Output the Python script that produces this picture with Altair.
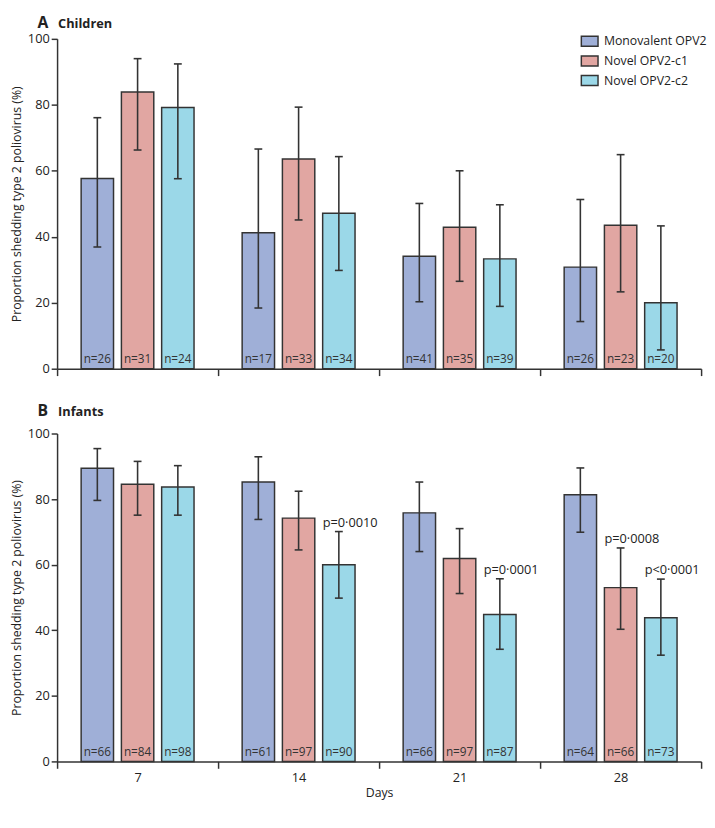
import altair as alt
import pandas as pd

FONT = "Open Sans"

days = [7, 14, 21, 28]
vaccines = ["Monovalent OPV2", "Novel OPV2-c1", "Novel OPV2-c2"]
colors = ["#9FAFD7", "#E1A6A2", "#9BD8E8"]
panel_letters = ["A", "B"]
panel_names = ["Children", "Infants"]

# Panel A: children
child_mono = [57.7, 41.2, 34.1, 30.8]
child_c1 = [83.9, 63.6, 42.9, 43.5]
child_c2 = [79.2, 47.1, 33.3, 20.0]
child_mono_lo = [36.9, 18.4, 20.3, 14.3]
child_mono_hi = [76.1, 66.6, 50.1, 51.3]
child_c1_lo = [66.3, 45.1, 26.5, 23.3]
child_c1_hi = [94.0, 79.3, 60.0, 64.9]
child_c2_lo = [57.6, 29.8, 18.9, 5.7]
child_c2_hi = [92.4, 64.3, 49.7, 43.3]
child_n_mono = [26, 17, 41, 26]
child_n_c1 = [31, 33, 35, 23]
child_n_c2 = [24, 34, 39, 20]

# Panel B: infants
infant_mono = [89.4, 85.2, 75.8, 81.3]
infant_c1 = [84.5, 74.2, 61.9, 53.0]
infant_c2 = [83.7, 60.0, 44.8, 43.8]
infant_mono_lo = [79.6, 73.8, 64.0, 69.9]
infant_mono_hi = [95.4, 92.9, 85.2, 89.5]
infant_c1_lo = [75.1, 64.5, 51.2, 40.3]
infant_c1_hi = [91.5, 82.4, 71.0, 65.1]
infant_c2_lo = [75.1, 49.8, 34.2, 32.4]
infant_c2_hi = [90.2, 70.1, 55.7, 55.6]
infant_n_mono = [66, 61, 66, 64]
infant_n_c1 = [84, 97, 97, 66]
infant_n_c2 = [98, 90, 87, 73]

p_days = [14, 21, 28, 28]
p_vaccines = ["Novel OPV2-c2", "Novel OPV2-c2", "Novel OPV2-c1", "Novel OPV2-c2"]
p_labels = ["p=0·0010", "p=0·0001", "p=0·0008", "p<0·0001"]

GROUP = 7.0        # width of one day group on the x scale
STEP = 1.75        # distance between bar centres inside a group
HALF_BAR = 0.704   # half bar width


def build(vals, los, his, ns):
    rows = []
    for k, v in enumerate(vaccines):
        for i, d in enumerate(days):
            pos = d + (k - 1) * STEP
            rows.append(dict(day=d, vaccine=v, value=vals[k][i], lo=los[k][i], hi=his[k][i],
                             nlabel=f"n={ns[k][i]}", pos=pos, x1=pos - HALF_BAR, x2=pos + HALF_BAR))
    return pd.DataFrame(rows)


children = build([child_mono, child_c1, child_c2],
                 [child_mono_lo, child_c1_lo, child_c2_lo],
                 [child_mono_hi, child_c1_hi, child_c2_hi],
                 [child_n_mono, child_n_c1, child_n_c2])
infants = build([infant_mono, infant_c1, infant_c2],
                [infant_mono_lo, infant_c1_lo, infant_c2_lo],
                [infant_mono_hi, infant_c1_hi, infant_c2_hi],
                [infant_n_mono, infant_n_c1, infant_n_c2])

prow = []
for d, v, lab in zip(p_days, p_vaccines, p_labels):
    r = infants[(infants.day == d) & (infants.vaccine == v)].iloc[0]
    prow.append(dict(x1=r.x1, hi=r.hi, label=lab))
pvals = pd.DataFrame(prow)

x_lo = days[0] - GROUP / 2
x_hi = days[-1] + GROUP / 2
tick_values = []
for d in days:
    tick_values += [d - GROUP / 2, d]
tick_values.append(x_hi)

xscale = alt.Scale(domain=[x_lo, x_hi], nice=False, zero=False)
yscale = alt.Scale(domain=[0, 100], nice=False)

W = 656


def panel(df, idx, title_y, height, show_labels, show_legend, pdf=None):
    xaxis = alt.Axis(
        values=tick_values,
        labels=show_labels,
        labelExpr="datum.value % 7 === 0 ? datum.label : ''",
        labelOverlap=False,
        labelFlush=False,
        labelPadding=3,
        tickSize=7,
        tickOpacity={"condition": {"test": "datum.value % 7 === 0", "value": 0}, "value": 1},
        title="Days" if show_labels else None,
        titlePadding=3,
    )
    yaxis = alt.Axis(values=[0, 20, 40, 60, 80, 100], tickSize=6, labelPadding=2,
                     title="Proportion shedding type 2 poliovirus (%)", titlePadding=4)
    if show_legend:
        legend = alt.Legend(
            title=None, orient="none", legendX=533, legendY=-7, padding=0,
            symbolType="M-1,-0.6H1V0.6H-1Z", symbolSize=289,
            symbolStrokeColor="#333", symbolStrokeWidth=1.5, symbolOpacity=1,
            labelFont=FONT, labelFontSize=12.5, labelColor="#222", labelOffset=5,
            rowPadding=2,
        )
    else:
        legend = None

    X = lambda f: alt.X(f, scale=xscale, axis=xaxis)
    Y = lambda f: alt.Y(f, scale=yscale, axis=yaxis)

    base = alt.Chart(df)
    bars = base.mark_rect(stroke="#333", strokeWidth=1.5).encode(
        x=X("x1:Q"),
        x2="x2:Q",
        y=Y("value:Q"),
        y2=alt.datum(0),
        fill=alt.Fill("vaccine:N", scale=alt.Scale(domain=vaccines, range=colors), legend=legend),
    )
    rule = base.mark_rule(color="#333", strokeWidth=1.6).encode(
        x=X("pos:Q"), y=Y("lo:Q"), y2="hi:Q",
    )
    cap_hi = base.mark_tick(orient="horizontal", size=8, thickness=1.6, color="#333", opacity=1).encode(
        x=X("pos:Q"), y=Y("hi:Q"),
    )
    cap_lo = base.mark_tick(orient="horizontal", size=8, thickness=1.6, color="#333", opacity=1).encode(
        x=X("pos:Q"), y=Y("lo:Q"),
    )
    ntext = base.mark_text(baseline="alphabetic", dy=-6, fontSize=12, color="#333", font=FONT).encode(
        x=X("pos:Q"),
        y=alt.Y(datum=0, scale=yscale, axis=yaxis),
        text="nlabel:N",
    )
    tdf = pd.DataFrame({"letter": [panel_letters[idx]], "name": [panel_names[idx]]})
    letter = alt.Chart(tdf).mark_text(align="left", baseline="alphabetic", fontSize=16,
                                      fontWeight="bold", font=FONT, color="#222").encode(
        x=alt.value(-20), y=alt.value(title_y), text="letter:N",
    )
    name = alt.Chart(tdf).mark_text(align="left", baseline="alphabetic", fontSize=13,
                                    fontWeight="bold", font=FONT, color="#222").encode(
        x=alt.value(1), y=alt.value(title_y), text="name:N",
    )
    layers = [bars, rule, cap_hi, cap_lo, ntext, letter, name]
    if pdf is not None:
        ptext = alt.Chart(pdf).mark_text(align="left", baseline="alphabetic", dy=-5, fontSize=13,
                                         color="#222", font=FONT).encode(
            x=X("x1:Q"), y=Y("hi:Q"), text="label:N",
        )
        layers.append(ptext)
    return alt.layer(*layers).properties(width=W, height=height)


panel_a = panel(children, 0, -11, 336, False, True)
panel_b = panel(infants, 1, -18, 334, True, False, pvals)

chart = alt.vconcat(panel_a, panel_b, spacing=27).resolve_legend(fill="independent").properties(
    padding={"left": 2, "top": 0, "right": 0, "bottom": 0}
).configure_axis(
    labelFont=FONT, titleFont=FONT, labelFontSize=13, titleFontSize=12.5,
    titleFontWeight="normal", labelColor="#222", titleColor="#222",
    domainColor="#333", tickColor="#333", domainWidth=1.5, tickWidth=1.5, grid=False,
).configure_view(stroke=None)

chart.save("out.html", embed_options={"renderer": "svg", "actions": False})
